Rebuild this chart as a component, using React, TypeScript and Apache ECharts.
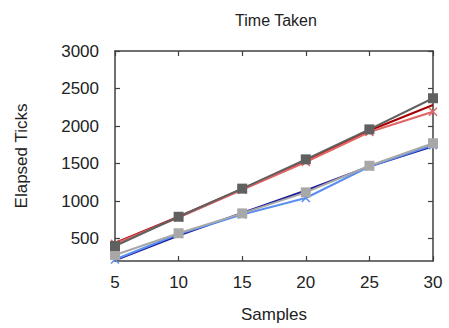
import React, { useEffect, useRef } from "react";
import * as echarts from "echarts";

const samples = [5, 10, 15, 20, 25, 30];
const yTicks = [500, 1000, 1500, 2000, 2500, 3000];
const darkRed = [440, 790, 1160, 1530, 1940, 2280];
const lightRed = [430, 780, 1150, 1520, 1920, 2190];
const darkGray = [400, 790, 1165, 1555, 1955, 2370];
const navy = [210, 540, 840, 1140, 1460, 1730];
const lightBlue = [220, 560, 820, 1040, 1460, 1745];
const lightGray = [280, 570, 835, 1115, 1470, 1770];

const FONT = "Liberation Sans, Arial, sans-serif";
const CROSS = "path://M0,0L10,10M10,0L0,10";

function pts(v: number[]) {
  return samples.map((s, i) => [s, v[i]]);
}

export default function App() {
  const ref = useRef<HTMLDivElement>(null);
  useEffect(() => {
    if (!ref.current) return;
    const chart = echarts.init(ref.current, null, { renderer: "svg" });
    const axisLine = { show: true, lineStyle: { color: "#404040", width: 1.5 } };
    const tick = { show: true, inside: true, length: 5, lineStyle: { color: "#404040", width: 1.2 } };
    const lineSeries = (name: string, data: number[], color: string, symbol: string, size: number, z: number, cross = false) => ({
      name,
      type: "line",
      data: pts(data),
      symbol,
      symbolSize: size,
      showSymbol: symbol !== "none",
      z,
      lineStyle: { color, width: 2 },
      itemStyle: cross
        ? { color: "none", borderColor: color, borderWidth: 1.5 }
        : { color, borderWidth: 0 },
    });
    chart.setOption({
      animation: false,
      title: {
        text: "Time Taken",
        left: 271,
        top: 7,
        textAlign: "center",
        textStyle: { fontFamily: FONT, fontSize: 16, fontWeight: "normal", color: "#222" },
      },
      grid: { left: 115, right: 16, top: 51, bottom: 67, containLabel: false },
      xAxis: [
        {
          type: "value",
          min: 5,
          max: 30,
          interval: 5,
          name: "Samples",
          nameLocation: "middle",
          nameGap: 45,
          nameTextStyle: { fontFamily: FONT, fontSize: 17, color: "#222" },
          axisLine,
          axisTick: tick,
          axisLabel: { fontFamily: FONT, fontSize: 17, color: "#222", margin: 13 },
          splitLine: { show: false },
        },
        {
          type: "value",
          position: "top",
          min: 5,
          max: 30,
          interval: 5,
          axisLine,
          axisTick: tick,
          axisLabel: { show: false },
          splitLine: { show: false },
        },
      ],
      yAxis: [
        {
          type: "value",
          min: 200,
          max: 3000,
          name: "Elapsed Ticks",
          nameLocation: "middle",
          nameGap: 85,
          nameTextStyle: { fontFamily: FONT, fontSize: 17, color: "#222" },
          axisLine,
          axisTick: { ...tick, customValues: yTicks },
          axisLabel: {
            fontFamily: FONT,
            fontSize: 17,
            color: "#222",
            margin: 16,
            customValues: yTicks,
            formatter: (v: number) => String(v),
          },
          splitLine: { show: false },
        },
        {
          type: "value",
          position: "right",
          min: 200,
          max: 3000,
          axisLine,
          axisTick: { ...tick, customValues: yTicks },
          axisLabel: { show: false, customValues: yTicks },
          splitLine: { show: false },
        },
      ],
      series: [
        lineSeries("navy", navy, "#1c1c9c", "none", 0, 2),
        lineSeries("lightBlue", lightBlue, "#5a8ff0", CROSS, 8, 3, true),
        lineSeries("lightGray", lightGray, "#a8a8a8", "rect", 10, 4),
        lineSeries("darkRed", darkRed, "#a80000", "none", 0, 5),
        lineSeries("lightRed", lightRed, "#e06666", CROSS, 8, 6, true),
        lineSeries("darkGray", darkGray, "#606060", "rect", 10, 7),
      ],
    });
    return () => chart.dispose();
  }, []);
  return <div ref={ref} style={{ width: 449, height: 328, position: "absolute", left: 0, top: 0 }} />;
}
